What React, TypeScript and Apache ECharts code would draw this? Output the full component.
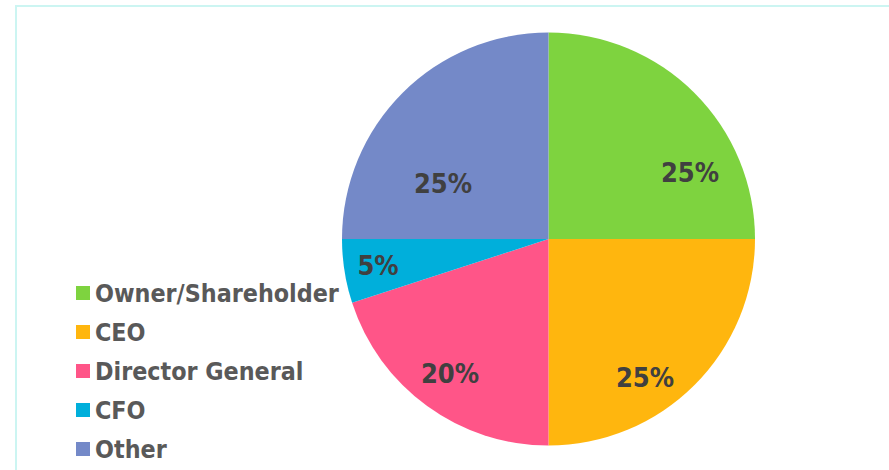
import React, { useEffect, useRef } from "react";
import * as echarts from "echarts";

const categories = ["Owner/Shareholder", "CEO", "Director General", "CFO", "Other"];
const values = [25, 25, 20, 5, 25];
const colors = ["#7ED33F", "#FFB60E", "#FF5588", "#00AFDB", "#7489C8"];
const titleText = "Position in the Company";

export default function App() {
  const ref = useRef<HTMLDivElement>(null);
  useEffect(() => {
    if (!ref.current) return;
    const chart = echarts.init(ref.current, null, { renderer: "svg" });
    const labelPos = [
      [690, 172],
      [645, 377],
      [450, 373],
      [378, 265],
      [443, 183],
    ];
    const font = "'DejaVu Sans Condensed', 'DejaVu Sans', sans-serif";
    chart.setOption({
      animation: false,
      backgroundColor: "#ffffff",
      graphic: [
        {
          type: "rect",
          shape: { x: 16, y: 6, width: 900, height: 500 },
          style: { fill: "none", stroke: "#CCF5F2", lineWidth: 2 },
        },
        {
          type: "text",
          x: 652,
          y: -2,
          style: {
            text: titleText,
            fontFamily: font,
            fontWeight: "bold",
            fontSize: 28,
            fill: "#000000",
            textAlign: "right",
            textVerticalAlign: "bottom",
          },
        },
      ],
      legend: {
        orient: "vertical",
        left: 76,
        top: 280,
        height: 190,
        padding: 0,
        itemWidth: 14,
        itemHeight: 14,
        itemGap: 13,
        icon: "rect",
        selectedMode: false,
        textStyle: {
          fontFamily: font,
          fontWeight: "bold",
          fontSize: 24.8,
          color: "#595959",
          lineHeight: 26,
        },
        data: categories,
      },
      series: [
        {
          type: "pie",
          center: [548.5, 239],
          radius: 206.5,
          startAngle: 90,
          clockwise: true,
          color: colors,
          itemStyle: { borderWidth: 0 },
          label: {
            show: true,
            position: "inside",
            formatter: (p: any) => p.value + "%",
            fontFamily: font,
            fontWeight: "bold",
            fontSize: 27,
            color: "#404040",
          },
          labelLine: { show: false },
          labelLayout: (p: any) => ({
            x: labelPos[p.dataIndex][0],
            y: labelPos[p.dataIndex][1],
            align: "center",
            verticalAlign: "middle",
          }),
          emphasis: { disabled: true },
          data: categories.map((c, i) => ({ name: c, value: values[i] })),
        },
      ],
    });
    return () => chart.dispose();
  }, []);
  return (
    <div
      ref={ref}
      style={{ position: "fixed", left: 0, top: 0, width: 889, height: 470 }}
    />
  );
}
